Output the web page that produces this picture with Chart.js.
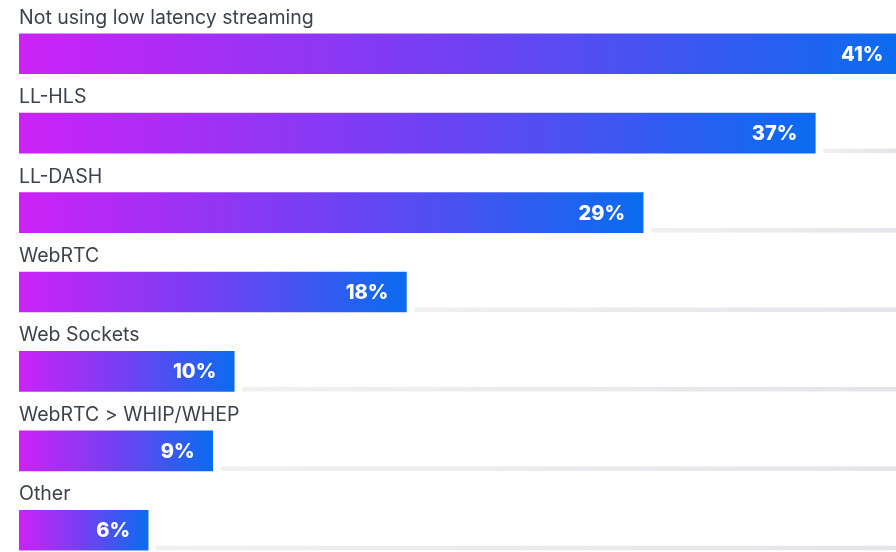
<!DOCTYPE html>
<html lang="en">
<head>
  <meta charset="UTF-8">
  <title>Low latency streaming usage</title>
  <script src="https://cdn.jsdelivr.net/npm/chart.js"></script>
  <style>
    html, body { margin: 0; padding: 0; background: #fff; overflow: hidden; }
    #wrap { position: absolute; left: 0; top: 0; width: 896px; height: 570px; }
  </style>
</head>
<body>
<div id="wrap"><canvas id="chart"></canvas></div>
<script>
const categories = [
  'Not using low latency streaming',
  'LL-HLS',
  'LL-DASH',
  'WebRTC',
  'Web Sockets',
  'WebRTC > WHIP/WHEP',
  'Other'
];
const shares = [41, 37, 29, 18, 10, 9, 6];

const FONT = 'Inter, "Open Sans", "DejaVu Sans", sans-serif';

// magenta -> blue gradient stretched over each bar's own length
function barGradient(context) {
  const chart = context.chart;
  const xs = chart.scales.x;
  if (!chart.chartArea || !xs || context.dataIndex === undefined) return '#7141f2';
  const x0 = xs.getPixelForValue(0);
  const x1 = xs.getPixelForValue(shares[context.dataIndex]);
  if (!isFinite(x0) || !isFinite(x1) || x1 <= x0) return '#7141f2';
  const g = chart.ctx.createLinearGradient(x0, 0, x1, 0);
  g.addColorStop(0, '#cc22f6');
  g.addColorStop(0.5, '#7141f2');
  g.addColorStop(1, '#0a6cf0');
  return g;
}

// thin grey track to the right of each bar, labels above and inside bars
const barDecor = {
  id: 'barDecor',
  beforeDatasetsDraw(chart) {
    const ctx = chart.ctx;
    const right = chart.chartArea.right;
    chart.getDatasetMeta(0).data.forEach(bar => {
      const start = bar.x + 8;
      if (!isFinite(start) || start >= right) return;
      const bottom = bar.y + bar.height / 2;
      const g = ctx.createLinearGradient(start, 0, right, 0);
      g.addColorStop(0, '#eff0f2');
      g.addColorStop(1, '#e3e5e8');
      ctx.save();
      ctx.fillStyle = g;
      ctx.fillRect(start, bottom - 4.5, right - start, 4.5);
      ctx.restore();
    });
  },
  afterDatasetsDraw(chart) {
    const ctx = chart.ctx;
    const left = chart.scales.x.getPixelForValue(0);
    ctx.save();
    chart.getDatasetMeta(0).data.forEach((bar, i) => {
      const top = bar.y - bar.height / 2;
      ctx.font = '19.5px ' + FONT;
      ctx.fillStyle = '#3d434d';
      ctx.textAlign = 'left';
      ctx.textBaseline = 'alphabetic';
      ctx.fillText(categories[i], left, top - 10);

      ctx.font = '800 20px ' + FONT;
      ctx.fillStyle = '#ffffff';
      ctx.textAlign = 'right';
      ctx.textBaseline = 'middle';
      ctx.fillText(shares[i] + '%', bar.x - 18, bar.y + 1);
    });
    ctx.restore();
  }
};

new Chart(document.getElementById('chart'), {
  type: 'bar',
  data: {
    labels: categories,
    datasets: [{
      data: shares,
      backgroundColor: barGradient,
      borderWidth: 0,
      barThickness: 40
    }]
  },
  options: {
    indexAxis: 'y',
    responsive: true,
    maintainAspectRatio: false,
    animation: false,
    layout: { padding: { left: 19, right: 0, top: 14, bottom: 0 } },
    plugins: { legend: { display: false }, tooltip: { enabled: false } },
    scales: {
      x: { display: false, min: 0, max: 40.75 },
      y: { display: false }
    }
  },
  plugins: [barDecor]
});
</script>
</body>
</html>
